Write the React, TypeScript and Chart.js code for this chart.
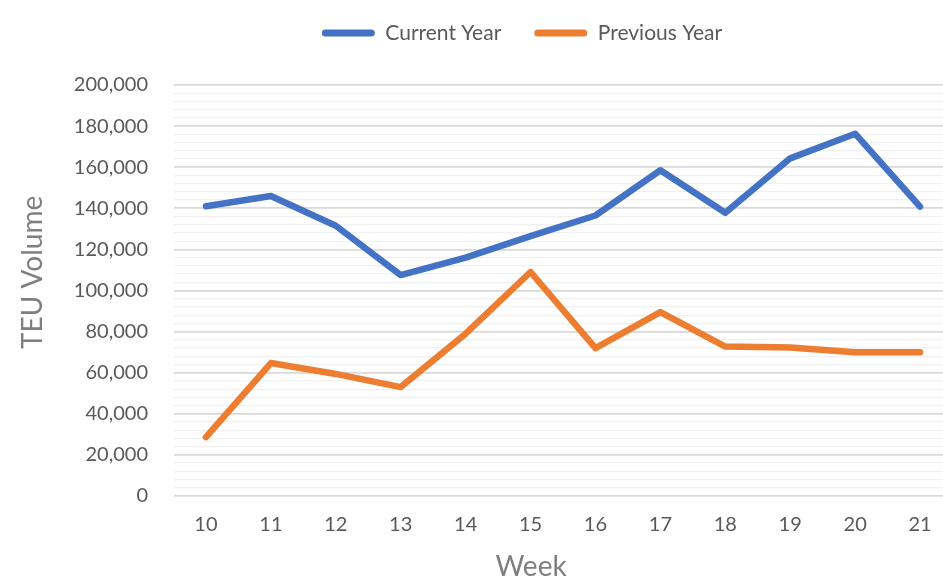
import React, { useEffect, useRef } from "react";
import { Chart, registerables } from "chart.js";

Chart.register(...registerables);

const weeks = ["10", "11", "12", "13", "14", "15", "16", "17", "18", "19", "20", "21"];
const currentYear = [141000, 146000, 131500, 107500, 116000, 126500, 136500, 158500, 137800, 164300, 176300, 140800];
const previousYear = [28700, 64700, 59400, 53000, 79000, 109000, 72000, 89500, 72700, 72300, 70000, 70000];
const seriesNames = ["Current Year", "Previous Year"];
const seriesColors = ["#4472C4", "#ED7D31"];
const xTitle = "Week";
const yTitle = "TEU Volume";
const yMin = 0;
const yMax = 200000;
const yMinorStep = 4000;
const yMajorStep = 20000;

const FONT = "Lato, 'Open Sans', sans-serif";

const axisTitles = {
  id: "axisTitles",
  afterDraw(chart: any) {
    const ctx = chart.ctx;
    const area = chart.chartArea;
    ctx.save();
    ctx.fillStyle = "#7F7F7F";
    ctx.font = `28px ${FONT}`;
    ctx.textAlign = "center";
    ctx.textBaseline = "middle";
    // x-axis title, slightly left of plot centre as in the source
    ctx.fillText(xTitle, area.left + (area.right - area.left) * 0.459, area.bottom + 71);
    // y-axis title, rotated
    ctx.translate(33, area.top + (area.bottom - area.top) * 0.456);
    ctx.rotate(-Math.PI / 2);
    ctx.fillText(yTitle, 0, 0);
    ctx.restore();
  },
};

export default function App() {
  const ref = useRef<HTMLCanvasElement | null>(null);

  useEffect(() => {
    const canvas = ref.current;
    if (!canvas) return;
    const chart = new Chart(canvas, {
      type: "line",
      data: {
        labels: weeks,
        datasets: [
          {
            label: seriesNames[0],
            data: currentYear,
            borderColor: seriesColors[0],
            backgroundColor: seriesColors[0],
            borderWidth: 6.5,
            pointRadius: 0,
            borderCapStyle: "round",
            borderJoinStyle: "round",
            tension: 0,
          },
          {
            label: seriesNames[1],
            data: previousYear,
            borderColor: seriesColors[1],
            backgroundColor: seriesColors[1],
            borderWidth: 6.5,
            pointRadius: 0,
            borderCapStyle: "round",
            borderJoinStyle: "round",
            tension: 0,
          },
        ],
      },
      plugins: [axisTitles],
      options: {
        responsive: false,
        animation: false,
        devicePixelRatio: 1,
        layout: { padding: { top: -10.5, left: 0, right: 0, bottom: 0 } },
        plugins: {
          tooltip: { enabled: false },
          legend: {
            position: "top",
            weight: 1000,
            labels: {
              font: { family: FONT, size: 21 },
              color: "#595959",
              boxWidth: 53,
              boxHeight: 7,
              padding: 33,
              useBorderRadius: true,
              borderRadius: 3.5,
              generateLabels: (c: any) =>
                c.data.datasets.map((ds: any, i: number) => ({
                  text: ds.label,
                  fillStyle: ds.borderColor,
                  strokeStyle: ds.borderColor,
                  lineWidth: 0,
                  hidden: false,
                  datasetIndex: i,
                  borderRadius: 3.5,
                  fontColor: "#595959",
                })),
            },
          },
          title: {
            display: true,
            text: "",
            weight: 500,
            font: { size: 10 },
            padding: { top: 0, bottom: 19.5 },
          },
        },
        scales: {
          x: {
            type: "category",
            offset: true,
            grid: { display: false, drawTicks: false },
            border: { display: false },
            ticks: {
              font: { family: FONT, size: 20 },
              color: "#595959",
              padding: 17,
              maxRotation: 0,
            },
            afterFit: (s: any) => {
              s.height = 94;
            },
          },
          y: {
            min: yMin,
            max: yMax,
            grid: {
              drawTicks: false,
              color: (ctx: any) => (ctx.tick && ctx.tick.value % yMajorStep === 0 ? "#D9D9D9" : "#F0F0F0"),
              lineWidth: (ctx: any) => (ctx.tick && ctx.tick.value % yMajorStep === 0 ? 1.75 : 1.25),
            },
            border: { display: false },
            ticks: {
              stepSize: yMinorStep,
              autoSkip: false,
              font: { family: FONT, size: 20 },
              color: "#595959",
              padding: 25.5,
              callback: (v: any) => (Number(v) % yMajorStep === 0 ? Number(v).toLocaleString("en-US") : ""),
            },
            afterFit: (s: any) => {
              s.width = 173.5;
            },
          },
          yRight: {
            position: "right",
            min: yMin,
            max: yMax,
            grid: { display: false, drawTicks: false },
            border: { display: false },
            ticks: { display: false },
            afterFit: (s: any) => {
              s.width = 91.5;
            },
          },
        },
      },
    });
    return () => chart.destroy();
  }, []);

  return (
    <div style={{ position: "fixed", left: 0, top: 0, width: 943, height: 577, overflow: "hidden", background: "#fff" }}>
      <canvas ref={ref} width={1044} height={590} style={{ display: "block" }} />
    </div>
  );
}
